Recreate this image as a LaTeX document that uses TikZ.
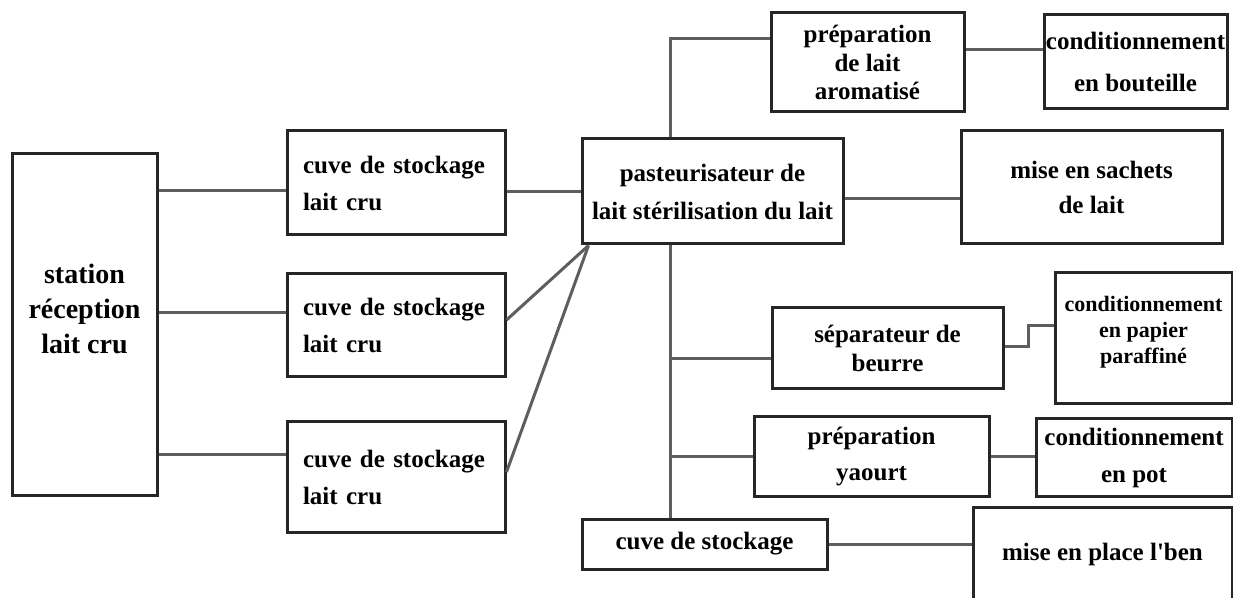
\documentclass[tikz,border=0pt]{standalone}
\usepackage{fontspec}
\setmainfont{Liberation Serif}
\usetikzlibrary{positioning,calc}
\definecolor{dpEdge}{HTML}{262626}
\definecolor{dpLine}{HTML}{5E5E5E}
\tikzset{
    dpBoxBase/.style={
        rectangle,
        draw=dpEdge,
        line width=3pt,
        inner sep=0pt,
        align=center,
        font=\fontsize{25}{37}\selectfont\bfseries
    },
    % Tanks with text set flush left
    dpTank/.style={dpBoxBase, align=left, text width=186pt, minimum width=218pt},
    % Connectors
    dpLink/.style={draw=dpLine, line width=3pt}
}

\begin{document}
\begin{tikzpicture}[x=1pt, y=1pt]
\useasboundingbox (0,0) rectangle (1233,597);

% reception and raw milk tanks
\node[dpBoxBase, minimum width=145pt, minimum height=341pt, font=\fontsize{28}{35}\selectfont\bfseries, text depth=31pt] (station) at (84.5,272.5) {station\\réception\\lait cru};
\node[dpTank, minimum height=104pt] (cuve1) at (396,414) {cuve de stockage\\lait cru};
\node[dpTank, minimum height=103pt] (cuve2) at (396,271.5) {cuve de stockage\\lait cru};
\node[dpTank, minimum height=110pt] (cuve3) at (396,120) {cuve de stockage\\lait cru};

% treatment
\node[dpBoxBase, minimum width=261pt, minimum height=105pt, font=\fontsize{25}{38}\selectfont\bfseries] (pasteur) at (712.5,405.5) {pasteurisateur de\\lait stérilisation du lait};

% products
\node[dpBoxBase, minimum width=193pt, minimum height=99pt, font=\fontsize{25}{28.5}\selectfont\bfseries] (prepArom) at (867.5,534.5) {préparation\\de lait\\aromatisé};
\node[dpBoxBase, minimum width=183pt, minimum height=94pt, font=\fontsize{25}{42}\selectfont\bfseries] (condBout) at (1135.5,535) {conditionnement\\en bouteille};
\node[dpBoxBase, minimum width=261pt, minimum height=113pt, font=\fontsize{25}{35}\selectfont\bfseries] (sachets) at (1091.5,409.5) {mise en sachets\\de lait};
\node[dpBoxBase, minimum width=231pt, minimum height=81pt, font=\fontsize{25}{29}\selectfont\bfseries] (separ) at (887.5,248.5) {séparateur de\\beurre};
\node[dpBoxBase, minimum width=177pt, minimum height=131pt, font=\fontsize{22}{26}\selectfont\bfseries, text depth=17pt] (condPap) at (1143.5,258.5) {conditionnement\\en papier\\paraffiné};
\node[dpBoxBase, minimum width=235pt, minimum height=79pt, font=\fontsize{25}{36}\selectfont\bfseries] (yaourt) at (871.5,140.5) {préparation\\yaourt};
\node[dpBoxBase, minimum width=196pt, minimum height=77pt] (condPot) at (1134,139.5) {conditionnement\\en pot};
\node[dpBoxBase, minimum width=245pt, minimum height=50pt] (cuveBas) at (704.5,53) {cuve de stockage};
\node[dpBoxBase, minimum width=259pt, minimum height=95pt] (place) at (1102.5,42.5) {mise en place l\textquotesingle ben};

\coordinate (trunk) at (670,0);

% connectors
\draw[dpLink] (station.east |- 0,406) -- (cuve1.west |- 0,406);
\draw[dpLink] (station.east |- 0,284) -- (cuve2.west |- 0,284);
\draw[dpLink] (station.east |- 0,142) -- (cuve3.west |- 0,142);
\draw[dpLink] (cuve1.east |- pasteur.west) -- (pasteur.west);
\draw[dpLink] (cuve2.east |- 0,277) -- ([xshift=8pt]pasteur.south west);
\draw[dpLink] (cuve3.east |- 0,125) -- ([xshift=8pt]pasteur.south west);
\draw[dpLink] (pasteur.north -| trunk) |- (prepArom.west |- 0,558);
\draw[dpLink] (prepArom.east |- 0,547) -- (condBout.west |- 0,547);
\draw[dpLink] (pasteur.east |- 0,398) -- (sachets.west |- 0,398);
\draw[dpLink] (pasteur.south -| trunk) -- (cuveBas.north -| trunk);
\draw[dpLink] (trunk |- 0,238) -- (separ.west |- 0,238);
\draw[dpLink] (separ.east |- 0,250) -| (1028,271) -- (condPap.west |- 0,271);
\draw[dpLink] (trunk |- yaourt.west) -- (yaourt.west);
\draw[dpLink] (yaourt.east) -- (yaourt.east -| condPot.west);
\draw[dpLink] (cuveBas.east) -- (cuveBas.east -| place.west);
\end{tikzpicture}
\end{document}
